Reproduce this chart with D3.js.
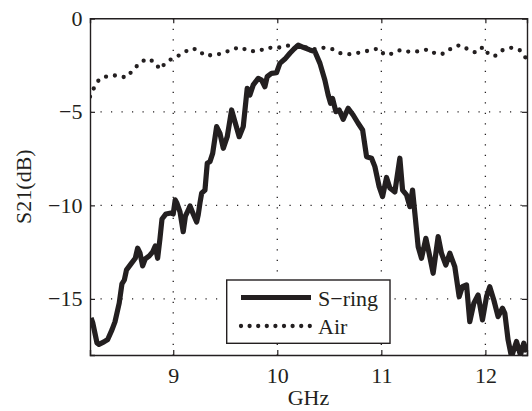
<!DOCTYPE html>
<html lang='en'>
<head>
<meta charset='UTF-8'>
<title>S21</title>
<script src='https://cdn.jsdelivr.net/npm/d3@7'></script>
<style>
  body { margin: 0; background: #fff; }
  text { font-family: 'Liberation Serif', 'Times New Roman', serif; fill: #231f20; }
</style>
</head>
<body>
<svg id='fig' width='532' height='411'></svg>
<script>
// values
let sringGHz = [8.210, 8.226, 8.267, 8.286, 8.334, 8.370, 8.411, 8.440, 8.481, 8.507, 8.530, 8.551, 8.594, 8.635, 8.658, 8.680, 8.706, 8.731, 8.770, 8.802, 8.827, 8.850, 8.872, 8.892, 8.930, 8.978, 9.000, 9.019, 9.036, 9.065, 9.096, 9.117, 9.141, 9.161, 9.192, 9.225, 9.240, 9.257, 9.273, 9.305, 9.327, 9.353, 9.379, 9.417, 9.449, 9.481, 9.519, 9.561, 9.593, 9.634, 9.673, 9.711, 9.737, 9.769, 9.817, 9.849, 9.881, 9.903, 9.945, 9.993, 10.025, 10.073, 10.121, 10.160, 10.201, 10.249, 10.313, 10.361, 10.410, 10.457, 10.489, 10.512, 10.531, 10.563, 10.595, 10.633, 10.681, 10.729, 10.777, 10.820, 10.858, 10.906, 10.938, 10.979, 11.012, 11.050, 11.082, 11.130, 11.178, 11.204, 11.242, 11.274, 11.300, 11.322, 11.354, 11.386, 11.428, 11.459, 11.498, 11.546, 11.578, 11.620, 11.658, 11.706, 11.748, 11.779, 11.819, 11.850, 11.889, 11.930, 11.972, 12.011, 12.042, 12.081, 12.122, 12.164, 12.187, 12.218, 12.251, 12.299, 12.337, 12.369, 12.400]
let sringDB = [-16.02, -16.27, -17.35, -17.43, -17.30, -17.17, -16.66, -16.23, -15.22, -14.20, -13.99, -13.45, -13.13, -12.83, -12.29, -12.54, -13.24, -12.86, -12.70, -12.49, -12.17, -12.83, -11.80, -10.73, -10.46, -10.41, -10.46, -9.71, -9.89, -10.35, -11.41, -10.57, -10.30, -10.03, -10.46, -10.89, -10.51, -9.87, -9.35, -9.18, -7.75, -7.66, -7.22, -5.79, -6.15, -6.95, -6.33, -4.90, -5.53, -6.33, -5.79, -3.74, -4.10, -3.56, -3.21, -3.30, -3.66, -3.12, -2.94, -2.91, -2.41, -2.18, -1.87, -1.64, -1.43, -1.55, -1.69, -1.77, -2.41, -3.30, -4.10, -4.54, -4.28, -4.99, -4.90, -5.40, -4.81, -5.17, -5.61, -5.97, -7.40, -7.48, -7.93, -9.00, -9.53, -8.51, -9.07, -9.28, -7.48, -9.18, -9.44, -10.07, -9.18, -10.41, -12.21, -12.83, -11.76, -12.56, -13.63, -11.67, -12.56, -13.19, -12.56, -13.28, -14.88, -14.35, -14.25, -16.22, -15.23, -14.79, -16.12, -14.88, -14.35, -15.06, -15.95, -15.50, -15.77, -17.19, -18.10, -17.28, -18.00, -17.37, -17.84]

let airGHz = [8.200, 8.241, 8.289, 8.373, 8.462, 8.546, 8.610, 8.674, 8.745, 8.818, 8.872, 8.930, 9.004, 9.084, 9.161, 9.235, 9.302, 9.391, 9.481, 9.561, 9.648, 9.730, 9.821, 9.907, 9.993, 10.083, 10.169, 10.256, 10.345, 10.435, 10.525, 10.608, 10.698, 10.787, 10.877, 10.967, 11.034, 11.101, 11.185, 11.274, 11.363, 11.450, 11.530, 11.601, 11.677, 11.754, 11.834, 11.908, 11.978, 12.036, 12.093, 12.164, 12.254, 12.331, 12.388, 12.400]
let airDB = [-4.19, -3.69, -3.26, -3.08, -3.05, -3.17, -2.80, -2.41, -2.16, -2.32, -2.73, -2.35, -2.11, -1.91, -1.62, -1.66, -2.00, -1.96, -1.87, -1.66, -1.55, -1.76, -1.75, -1.57, -1.60, -1.46, -1.48, -1.53, -1.66, -1.57, -1.64, -1.87, -1.92, -1.84, -1.73, -1.62, -1.96, -1.89, -1.69, -1.80, -1.76, -1.66, -1.92, -1.89, -1.59, -1.43, -1.66, -1.84, -1.53, -1.96, -2.01, -1.71, -1.57, -1.71, -2.12, -2.20]

let xTicks = [9, 10, 11, 12]
let yTicks = [0, -5, -10, -15]
let seriesNames = ['S\u2212ring', 'Air']

let ink = '#231f20'
let pLeft = 90, pRight = 527, pTop = 18.3, pBottom = 355

let x = d3.scaleLinear().domain([8.2, 12.4]).range([pLeft, pRight])
let y = d3.scaleLinear().domain([-18, 0]).range([pBottom, pTop])

let svg = d3.select('#fig')

svg.append('clipPath').attr('id', 'plotClip')
    .append('rect')
    .attr('x', pLeft).attr('y', pTop)
    .attr('width', pRight - pLeft).attr('height', pBottom - pTop)

//grid
let grid = svg.append('g')
grid.selectAll('line.gx')
    .data(xTicks)
    .join('line')
    .attr('class', 'gx')
    .attr('x1', d => x(d)).attr('x2', d => x(d))
    .attr('y1', pTop).attr('y2', pBottom)
grid.selectAll('line.gy')
    .data(yTicks.filter(d => d !== 0))
    .join('line')
    .attr('class', 'gy')
    .attr('x1', pLeft).attr('x2', pRight)
    .attr('y1', d => y(d)).attr('y2', d => y(d))
grid.selectAll('line')
    .attr('stroke', ink)
    .attr('stroke-width', 1.3)
    .attr('stroke-dasharray', '1.2 9.3')

//axes
let xAxisB = d3.axisBottom(x).tickValues(xTicks).tickSize(-5).tickPadding(12).tickFormat(d3.format('d'))
let xAxisT = d3.axisTop(x).tickValues(xTicks).tickSize(-5).tickFormat('')
let yAxisL = d3.axisLeft(y).tickValues(yTicks).tickSize(-5).tickPadding(7.5)
    .tickFormat(d => d < 0 ? '\u2212' + Math.abs(d) : d)
let yAxisR = d3.axisRight(y).tickValues(yTicks).tickSize(-5).tickFormat('')

function styleAxis(g) {
    g.attr('font-family', null)
    g.select('.domain').attr('stroke', ink).attr('stroke-width', 1.4)
    g.selectAll('.tick line').attr('stroke', ink).attr('stroke-width', 1.2)
    g.selectAll('.tick text')
        .attr('font-family', "'Liberation Serif', serif")
        .attr('font-size', 22)
        .attr('fill', ink)
}

svg.append('g').attr('transform', `translate(0,${pBottom})`).call(xAxisB).call(styleAxis)
svg.append('g').attr('transform', `translate(0,${pTop})`).call(xAxisT).call(styleAxis)
svg.append('g').attr('transform', `translate(${pLeft},0)`).call(yAxisL).call(styleAxis)
svg.append('g').attr('transform', `translate(${pRight},0)`).call(yAxisR).call(styleAxis)

//curves
let line = d3.line().x(d => x(d[0])).y(d => y(d[1]))
let plot = svg.append('g').attr('clip-path', 'url(#plotClip)')

plot.append('path')
    .datum(d3.zip(airGHz, airDB))
    .attr('d', line)
    .attr('fill', 'none')
    .attr('stroke', ink)
    .attr('stroke-width', 4.3)
    .attr('stroke-linecap', 'round')
    .attr('stroke-dasharray', '0 9')

plot.append('path')
    .datum(d3.zip(sringGHz, sringDB))
    .attr('d', line)
    .attr('fill', 'none')
    .attr('stroke', ink)
    .attr('stroke-width', 5.2)
    .attr('stroke-linejoin', 'round')

//labels
svg.append('text')
    .attr('x', (pLeft + pRight) / 2).attr('y', 405)
    .attr('text-anchor', 'middle')
    .attr('font-size', 22)
    .text('GHz')
svg.append('text')
    .attr('transform', `translate(31,${(pTop + pBottom) / 2}) rotate(-90)`)
    .attr('text-anchor', 'middle')
    .attr('font-size', 22)
    .text('S21(dB)')

//legend
let lg = svg.append('g')
lg.append('rect')
    .attr('x', 226.7).attr('y', 280)
    .attr('width', 163.3).attr('height', 63.3)
    .attr('fill', '#fff')
    .attr('stroke', ink)
    .attr('stroke-width', 1.4)
let rows = lg.selectAll('g.row')
    .data(seriesNames)
    .join('g')
    .attr('class', 'row')
    .attr('transform', (d, i) => `translate(0,${297.5 + i * 28.5})`)
rows.append('line')
    .attr('x1', 241).attr('x2', 311)
    .attr('stroke', ink)
    .attr('stroke-width', (d, i) => i === 0 ? 5.2 : 4.3)
    .attr('stroke-linecap', (d, i) => i === 0 ? 'butt' : 'round')
    .attr('stroke-dasharray', (d, i) => i === 0 ? null : '0 8.6')
rows.append('text')
    .attr('x', 318).attr('y', 8)
    .attr('font-size', 22)
    .text(d => d)
</script>
</body>
</html>
